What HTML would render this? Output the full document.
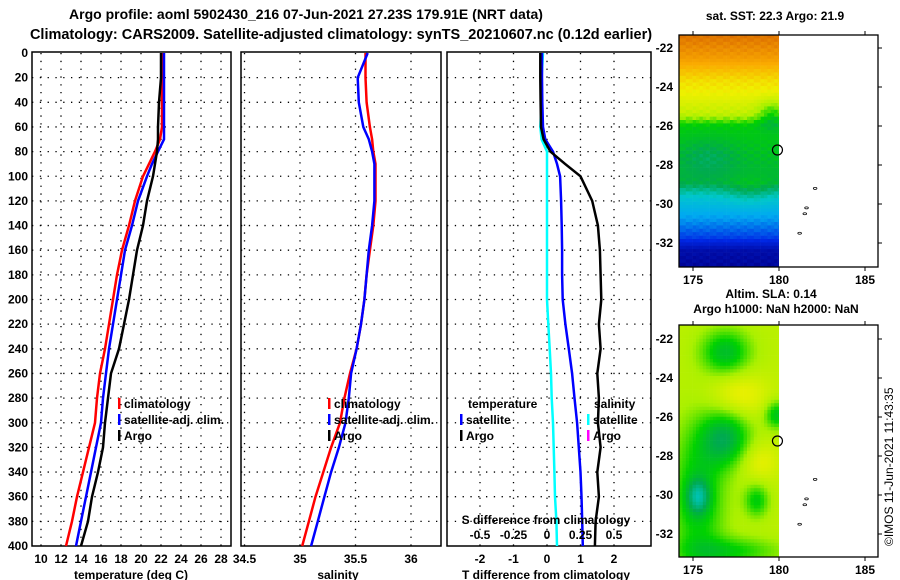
<!DOCTYPE html>
<html><head><meta charset="utf-8"><style>
body{margin:0;background:#fff;}
svg{display:block;font-family:"Liberation Sans",Arial,sans-serif;font-weight:bold;}
</style></head><body>
<svg id="s" width="900" height="580" viewBox="0 0 900 580" xmlns="http://www.w3.org/2000/svg">
<text x="306" y="19" font-size="14" text-anchor="middle">Argo profile: aoml 5902430_216 07-Jun-2021 27.23S 179.91E (NRT data)</text>
<text x="341" y="39" font-size="14.5" text-anchor="middle">Climatology: CARS2009. Satellite-adjusted climatology: synTS_20210607.nc (0.12d earlier)</text>
<g id="p1"></g>
<g id="p2"></g>
<g id="p3"></g>
<g id="m1"></g>
<g id="m2"></g>
<text x="775" y="20" font-size="12" text-anchor="middle">sat. SST: 22.3 Argo: 21.9</text>
<text x="771" y="298" font-size="12" text-anchor="middle">Altim. SLA: 0.14</text>
<text x="776" y="313" font-size="12" text-anchor="middle">Argo h1000: NaN h2000: NaN</text>
<text transform="translate(893,546) rotate(-90)" font-size="12" font-weight="normal">©IMOS 11-Jun-2021 11:43:35</text>
</svg>
<script>
// ---- data ----
const depths = [0,20,40,60,70,80,90,100,120,140,160,180,200,220,240,260,280,300,320,340,360,380,400];
const tempClim = [22.1,22.1,22.1,22.1,21.9,21.4,20.8,20.2,19.4,18.8,18.1,17.6,17.2,16.8,16.4,15.9,15.6,15.4,14.8,14.2,13.6,13.1,12.5];
const tempSat  = [22.3,22.3,22.3,22.3,22.3,21.7,21.1,20.6,19.7,19.1,18.4,18.0,17.6,17.2,16.8,16.5,16.2,16.0,15.5,15.0,14.5,14.0,13.5];
const tempArgo = [22.0,22.0,21.8,21.7,21.7,21.6,21.4,21.2,20.6,20.2,19.6,19.2,18.8,18.3,17.8,17.0,16.7,16.4,16.2,15.7,15.1,14.7,14.0];
const salClim  = [35.59,35.59,35.60,35.63,35.65,35.66,35.68,35.68,35.68,35.66,35.63,35.60,35.58,35.55,35.51,35.45,35.40,35.36,35.28,35.21,35.14,35.08,35.02];
const salSat   = [35.61,35.52,35.53,35.57,35.62,35.65,35.67,35.67,35.67,35.65,35.62,35.60,35.58,35.55,35.51,35.46,35.44,35.41,35.35,35.28,35.22,35.16,35.10];
const sDiffSat = [-0.03,-0.04,-0.04,-0.05,-0.04,0.0,0.0,0.0,0.0,0.0,0.0,0.0,0.0,0.01,0.02,0.03,0.035,0.045,0.05,0.055,0.06,0.07,0.075];
const tDiffSat = [-0.15,-0.15,-0.14,-0.12,-0.05,0.18,0.3,0.39,0.42,0.44,0.45,0.45,0.47,0.55,0.65,0.75,0.82,0.9,0.95,1.0,1.03,1.05,1.07];
const tDiffArgo= [-0.2,-0.2,-0.19,-0.18,-0.1,0.1,0.54,1.0,1.35,1.52,1.58,1.6,1.62,1.55,1.6,1.5,1.55,1.52,1.6,1.5,1.55,1.45,1.43];
const depthTicks = [0,20,40,60,80,100,120,140,160,180,200,220,240,260,280,300,320,340,360,380,400];
const tempTicks = [10,12,14,16,18,20,22,24,26,28];
const salTicks = [34.5,35,35.5,36];
const tdTicks = [-2,-1,0,1,2];
const sdTicks = [-0.5,-0.25,0,0.25,0.5];
const latTicks = [-22,-24,-26,-28,-30,-32];
const lonTicks = [175,180,185];
const argoLat = -27.23, argoLon = 179.91;

const NS='http://www.w3.org/2000/svg';
function mk(parent,tag,attrs,txt){const e=document.createElementNS(NS,tag);for(const k in attrs)e.setAttribute(k,attrs[k]);if(txt!==undefined)e.textContent=txt;parent.appendChild(e);return e;}
const Y0=53,Y1=546;
const yD = d => Y0 + (d/400)*(Y1-Y0);
const xT = t => 41 + (t-10)*10;
const xS = s => 300 + (s-35)*111;
const xTD = v => 547 + v*33.5;
const xSD = v => 547 + v*134;

function frame(g,x0,x1,vt,xf,name){
  for(const d of depthTicks){ if(d===0||d===400)continue;
    const l=mk(g,'line',{x1:x0,x2:x1,y1:yD(d),y2:yD(d),stroke:'#000','stroke-width':1.3,'stroke-dasharray':'1.3 6.5'});
    
    
  }
  for(const v of vt){const x=xf(v); if(x<=x0+1||x>=x1-1)continue;
    const l=mk(g,'line',{x1:x,x2:x,y1:Y0,y2:Y1,stroke:'#000','stroke-width':1.3,'stroke-dasharray':'1.3 6.5'});
    
    
  }
  const r=mk(g,'rect',{x:x0,y:52,width:x1-x0,height:Y1-52,fill:'none',stroke:'#000','stroke-width':1.5});
  
  
}
function line(g,xs,xf,color,name){
  const pts=depths.map((d,i)=>xf(xs[i]).toFixed(1)+','+yD(d).toFixed(1)).join(' ');
  const p=mk(g,'polyline',{points:pts,fill:'none',stroke:color,'stroke-width':2.5});
  
  
}
function legend(g,x,y,color,label,name){
  const b=mk(g,'rect',{x:x,y:y-10,width:2.5,height:11,fill:color});
  
  
  const t=mk(g,'text',{x:x+6,y:y,'font-size':12},label);
  
  
}
function xlabels(g,vals,xf,y,name){
  for(const v of vals){const t=mk(g,'text',{x:xf(v),y:y,'font-size':12,'text-anchor':'middle'},String(v));
    
    }
}
// panel 1
const p1=document.getElementById('p1');
frame(p1,32,231,tempTicks,xT,'temperature');
for(const d of depthTicks){const t=mk(p1,'text',{x:28,y:yD(d)+4,'font-size':12,'text-anchor':'end'},String(d));
  
  }
line(p1,tempClim,xT,'#ff0000','temp-climatology-line');
line(p1,tempSat,xT,'#0000ff','temp-satellite-line');
line(p1,tempArgo,xT,'#000','temp-argo-line');
legend(p1,118,408,'#f00','climatology','legend-climatology');
legend(p1,118,424,'#00f','satellite-adj. clim.','legend-satellite');
legend(p1,118,440,'#000','Argo','legend-argo');
xlabels(p1,tempTicks,xT,563,'temperature-tick-label');
const a1=mk(p1,'text',{x:131,y:579,'font-size':12,'text-anchor':'middle'},'temperature (deg C)');


// panel 2
const p2=document.getElementById('p2');
frame(p2,241,441,salTicks,xS,'salinity');
line(p2,salClim,xS,'#ff0000','sal-climatology-line');
line(p2,salSat,xS,'#0000ff','sal-satellite-line');
legend(p2,328,408,'#f00','climatology','legend2-climatology');
legend(p2,328,424,'#00f','satellite-adj. clim.','legend2-satellite');
legend(p2,328,440,'#000','Argo','legend2-argo');
xlabels(p2,salTicks,xS,563,'salinity-tick-label');
const a2=mk(p2,'text',{x:338,y:579,'font-size':12,'text-anchor':'middle'},'salinity');


// panel 3
const p3=document.getElementById('p3');
frame(p3,447,651,tdTicks,xTD,'difference');
line(p3,sDiffSat,xSD,'#00ffff','sdiff-satellite-line');
line(p3,tDiffSat,xTD,'#0000ff','tdiff-satellite-line');
line(p3,tDiffArgo,xTD,'#000','tdiff-argo-line');
const lt=mk(p3,'text',{x:468,y:408,'font-size':12},'temperature');


const ls=mk(p3,'text',{x:594,y:408,'font-size':12},'salinity');


legend(p3,460,424,'#00f','satellite','legend3-t-satellite');
legend(p3,460,440,'#000','Argo','legend3-t-argo');
legend(p3,587,424,'#0ff','satellite','legend3-s-satellite');
legend(p3,587,440,'#f0f','Argo','legend3-s-argo');
const sdt=mk(p3,'text',{x:546,y:524,'font-size':12,'text-anchor':'middle'},'S difference from climatology');


xlabels(p3,sdTicks,xSD,539,'sdiff-tick-label');
xlabels(p3,tdTicks,xTD,563,'tdiff-tick-label');
const a3=mk(p3,'text',{x:546,y:579,'font-size':12,'text-anchor':'middle'},'T difference from climatology');



// ---- maps ----
function jet(v){v=Math.max(0,Math.min(1,v));
  const stops=[[0,[0,0,140]],[0.15,[0,40,230]],[0.3,[0,170,240]],[0.4,[0,200,200]],[0.5,[0,170,80]],[0.58,[0,210,0]],[0.66,[170,240,0]],[0.75,[240,240,0]],[0.86,[250,170,0]],[1,[210,90,0]]];
  for(let i=1;i<stops.length;i++){if(v<=stops[i][0]){const a=stops[i-1],b=stops[i],f=(v-a[0])/(b[0]-a[0]);
    return 'rgb('+a[1].map((c,k)=>Math.round(c+(b[1][k]-c)*f)).join(',')+')';}}
  return 'rgb(210,90,0)';}
function g2(x,y,cx,cy,sx,sy){return Math.exp(-((x-cx)**2/(2*sx*sx)+(y-cy)**2/(2*sy*sy)));}
function drawMap(id,top,bot,latTop,latBot,field,name){
  const g=document.getElementById(id);
  const x0=679,x1=878,lon=l=>693+(l-175)*17.2,lat=l=>latTop.y+(l-latTop.v)*(latBot.y-latTop.y)/(latBot.v-latTop.v);
  const cell=3.4, xe=lon(180);
  for(let y=top;y<bot;y+=cell){for(let x=x0;x<xe;x+=cell){
    const lo=175+(x-693)/17.2, la=latTop.v+(y-latTop.y)*(latBot.v-latTop.v)/(latBot.y-latTop.y);
    mk(g,'rect',{x:x.toFixed(1),y:y.toFixed(1),width:Math.min(cell+0.3,xe-x).toFixed(1),height:Math.min(cell+0.3,bot-y).toFixed(1),fill:jet(field(lo,la))});}}
  const fr=mk(g,'rect',{x:x0,y:top,width:x1-x0,height:bot-top,fill:'none',stroke:'#000','stroke-width':1.3});
  
  
  for(const l of latTicks){const yy=lat(l);
    mk(g,'line',{x1:x1,x2:x1+4,y1:yy,y2:yy,stroke:'#000'});
    const t=mk(g,'text',{x:673,y:yy+4,'font-size':12,'text-anchor':'end'},String(l));
    
    }
  for(const l of lonTicks){const xx=lon(l);
    mk(g,'line',{x1:xx,x2:xx,y1:top,y2:top-4,stroke:'#000'});
    mk(g,'line',{x1:xx,x2:xx,y1:bot,y2:bot+4,stroke:'#000'});
    const t=mk(g,'text',{x:xx,y:bot+17,'font-size':12,'text-anchor':'middle'},String(l));
    
    }
  const isl=[[182.1,-29.2],[181.6,-30.2],[181.5,-30.5],[181.2,-31.5]];
  for(const p of isl){mk(g,'ellipse',{cx:lon(p[0]),cy:lat(p[1]),rx:1.8,ry:1,fill:'none',stroke:'#000','stroke-width':0.8});}
  const c=mk(g,'circle',{cx:lon(argoLon),cy:lat(argoLat),r:5,fill:'none',stroke:'#000','stroke-width':1.2});
  
  
}
function band(la){
  const pts=[[-21,0.97],[-22.5,0.88],[-23.6,0.78],[-25.3,0.69],[-25.9,0.57],[-28.8,0.52],[-29.6,0.38],[-30.7,0.28],[-31.6,0.18],[-32.3,0.05],[-34,0.0]];
  if(la>=pts[0][0])return pts[0][1];
  for(let i=1;i<pts.length;i++){if(la>=pts[i][0]){const a=pts[i-1],b=pts[i];return a[1]+(b[1]-a[1])*(la-a[0])/(b[0]-a[0]);}}
  return 0;}
drawMap('m1',35,267,{v:-22,y:48},{v:-32,y:243},(lo,la)=>{
  let v=band(la);
  v+=0.05*g2(lo,la,178.2,-29.3,1.0,0.5);
  v-=0.05*g2(lo,la,175.8,-27.5,1.2,0.7);
  v-=0.1*g2(lo,la,179.5,-25.3,0.6,0.5);
  v+=0.015*Math.sin(lo*23.1)*Math.cos(la*19.7);
  return v;},'sst-map');
drawMap('m2',325,557,{v:-22,y:339},{v:-32,y:534},(lo,la)=>{
  let v=0.68;
  v-=0.14*g2(lo,la,176.8,-22.6,1.0,0.8);
  v+=0.07*g2(lo,la,177.6,-24.8,1.2,0.8);
  v-=0.16*g2(lo,la,176.8,-27.0,1.0,1.0);
  v-=0.13*g2(lo,la,179.8,-25.8,0.5,0.5);
  v+=0.06*g2(lo,la,178.8,-28.2,0.8,0.7);
  v-=0.12*g2(lo,la,175.2,-30.0,1.1,2.6);
  v-=0.14*g2(lo,la,175.2,-30.0,0.45,0.6);
  v-=0.11*g2(lo,la,178.6,-30.2,0.5,0.6);
  v-=0.1*g2(lo,la,177,-32.8,2,0.5);
  return v;},'sla-map');
</script>
</body></html>
